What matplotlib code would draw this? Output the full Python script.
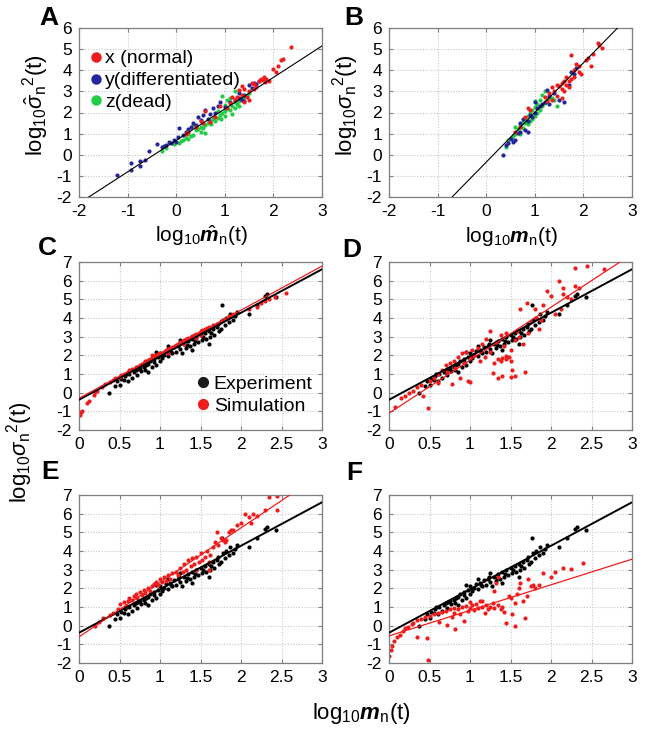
import matplotlib
matplotlib.use("Agg")
import matplotlib.pyplot as plt
from matplotlib.lines import Line2D
import numpy as np

plt.rcParams["font.family"] = ["Liberation Sans", "DejaVu Sans"]
plt.rcParams["mathtext.fontset"] = "custom"
plt.rcParams["mathtext.rm"] = "Liberation Sans"
plt.rcParams["mathtext.it"] = "Liberation Sans:italic"
plt.rcParams["mathtext.bf"] = "Liberation Sans:bold"
plt.rcParams["mathtext.bfit"] = "Liberation Sans:bold:italic"
plt.rcParams["mathtext.sf"] = "Liberation Sans"

# ---------------- data ----------------
# Panel A: normalized mean vs normalized variance
a_x_red = [0.2, 0.25, 0.4, 0.5, 0.55, 0.6, 0.7, 0.8, 1.05, 1.1, 1.2, 1.25, 1.3, 1.35, 1.4, 1.45,
           1.5, 1.55, 1.6, 1.65, 1.7, 1.75, 1.78, 1.8, 1.82, 1.85, 1.9, 1.6, 1.5, 1.4, 2.0, 2.05,
           2.1, 2.15, 2.2, 2.37, 1.35, 1.15, 0.9]
a_y_red = [1.0, 1.1, 1.3, 1.6, 1.5, 2.05, 1.55, 1.8, 2.2, 2.45, 2.6, 2.75, 3.05, 2.85, 3.1, 2.75,
           3.0, 3.4, 3.35, 3.2, 3.5, 3.6, 3.55, 3.7, 3.45, 3.6, 3.5, 3.1, 2.6, 2.5, 4.05, 3.9,
           4.2, 4.5, 4.55, 5.1, 3.25, 2.75, 2.3]
a_x_blue = [-1.22, -0.92, -0.92, -0.75, -0.75, -0.65, -0.55, -0.4, -0.3, -0.25, -0.2, -0.15, -0.1,
            -0.05, 0.0, 0.03, 0.05, 0.15, 0.2, 0.3, 0.35, 0.4, 0.45, 0.5, 0.55, 0.6, 0.7, 0.75,
            0.8, 0.85, 0.9, 1.0, 1.1, 1.2, 1.3, 1.35, 1.4, 1.5, 1.55, 1.6, 1.65, 1.7, 1.4, 1.3,
            0.65, 0.25]
a_y_blue = [-0.95, -0.4, -0.7, -0.3, -0.55, -0.25, 0.2, 0.5, 0.35, 0.4, 0.45, 0.6, 0.55,
            0.7, 0.6, 0.85, 1.25, 0.95, 1.1, 1.3, 1.5, 1.4, 1.8, 1.65, 1.9, 2.1, 1.95, 2.2,
            2.0, 2.3, 2.5, 2.25, 2.5, 2.6, 2.7, 2.6, 2.55, 3.3, 3.15, 3.4, 3.35, 3.5, 2.85, 2.9,
            1.7, 1.2]
a_x_green = [-0.3, -0.2, -0.05, 0.05, 0.1, 0.15, 0.2, 0.25, 0.3, 0.35, 0.35, 0.4, 0.45, 0.5, 0.55,
             0.6, 0.65, 0.7, 0.72, 0.75, 0.8, 0.85, 0.9, 0.92, 0.95, 1.0, 1.0, 1.05, 1.1, 1.15,
             1.2, 1.2, 1.25, 1.3, 1.3, 1.35, 1.4, 1.45, 1.5, 1.05, 1.1, 1.2, 0.95, 0.6, 0.5, 0.25,
             1.0, 0.85, 1.15]
a_y_green = [0.2, 0.3, 0.5, 0.55, 0.65, 0.7, 0.8, 0.75, 0.9, 0.95, 1.4, 1.15, 1.2, 1.3, 1.25,
             1.4, 1.5, 1.6, 1.45, 1.7, 1.6, 1.75, 1.9, 1.7, 2.0, 2.05, 1.85, 2.2, 2.1, 2.3,
             2.2, 2.5, 2.4, 2.55, 2.3, 2.65, 2.75, 2.8, 2.9, 2.6, 2.7, 3.0, 2.8, 1.05, 1.1, 1.0,
             2.35, 2.05, 1.95]

# Panel B: raw mean vs raw variance
b_x_red = [0.6, 0.7, 0.8, 0.85, 0.9, 1.2, 1.3, 1.35, 1.4, 1.45, 1.5, 1.55, 1.55, 1.6, 1.6, 1.65,
           1.65, 1.7, 1.7, 1.75, 1.75, 1.8, 1.8, 1.85, 1.9, 1.9, 1.95, 2.05, 2.1, 2.15, 2.2, 2.3,
           2.32, 2.38, 1.55, 1.45, 1.35, 1.25]
b_y_red = [1.1, 1.3, 1.8, 2.2, 2.1, 2.75, 2.9, 2.6, 3.0, 3.3, 3.25, 3.4, 3.1, 3.0, 3.5, 3.3,
           3.7, 3.2, 3.5, 3.6, 4.7, 3.7, 4.0, 4.3, 4.2, 3.9, 3.8, 4.5, 4.6, 4.2, 4.75, 5.3,
           5.2, 5.05, 2.7, 2.8, 3.2, 2.55]
b_x_blue = [0.35, 0.4, 0.45, 0.5, 0.55, 0.6, 0.65, 0.7, 0.7, 0.75, 0.8, 0.85, 0.85, 0.9, 0.95,
            1.0, 1.05, 1.1, 1.15, 1.2, 1.25, 1.3, 1.4, 1.5, 1.6, 1.7, 1.75, 1.8, 1.85, 1.0, 1.3]
b_y_blue = [0.0, 0.45, 0.55, 0.75, 0.6, 0.7, 1.05, 1.1, 1.5, 1.7, 1.15, 1.1, 1.6, 1.9, 1.8,
            2.0, 2.2, 2.3, 2.4, 2.5, 3.05, 2.8, 2.9, 2.6, 2.5, 3.3, 3.9, 3.8, 4.1, 2.5, 2.4]
b_x_green = [0.4, 0.45, 0.5, 0.55, 0.6, 0.6, 0.65, 0.7, 0.75, 0.75, 0.8, 0.8, 0.85, 0.85, 0.9,
             0.9, 0.95, 0.95, 1.0, 1.0, 1.05, 1.05, 1.1, 1.1, 1.15, 1.15, 1.2, 1.2, 1.25, 1.3,
             1.35, 1.4, 1.45, 0.7, 1.0]
b_y_green = [0.35, 0.7, 0.8, 0.9, 1.0, 1.3, 1.2, 1.4, 1.25, 1.55, 1.5, 1.7, 1.45, 1.85, 1.6,
             2.0, 1.7, 2.1, 1.85, 2.25, 2.0, 2.4, 2.1, 2.6, 2.3, 2.85, 2.45, 3.0, 2.6, 2.7,
             2.7, 2.6, 2.3, 1.0, 2.55]

# Panels C-F: experiment (same in every panel)
exp_x = [0.37, 0.45, 0.47, 0.5, 0.52, 0.55, 0.57, 0.6, 0.62, 0.65, 0.68, 0.7, 0.72, 0.75, 0.77,
         0.8, 0.82, 0.85, 0.85, 0.88, 0.9, 0.92, 0.95, 0.97, 1.0, 1.0, 1.02, 1.05, 1.07, 1.1,
         1.12, 1.15, 1.17, 1.2, 1.22, 1.25, 1.27, 1.3, 1.32, 1.35, 1.37, 1.4, 1.42, 1.45, 1.47,
         1.5, 1.52, 1.55, 1.57, 1.6, 1.62, 1.65, 1.67, 1.7, 1.72, 1.75, 1.77, 1.78, 1.8, 1.82,
         1.85, 1.87, 1.9, 1.92, 1.95, 2.1, 2.2, 2.3, 2.32, 2.43, 1.25, 1.1, 0.95, 1.4, 1.6,
         0.58, 0.73, 0.83, 0.93, 1.03, 1.13, 1.23, 1.33, 1.43, 1.53, 1.63, 1.73]
exp_y = [0.0, 0.35, 0.6, 0.4, 0.75, 0.7, 0.9, 0.65, 1.0, 0.8, 1.1, 1.2, 0.95, 1.3, 1.15,
         1.4, 1.2, 1.55, 1.1, 1.7, 1.35, 1.65, 1.5, 1.9, 1.7, 2.1, 1.85, 2.0, 2.25, 1.95,
         2.3, 2.15, 2.45, 2.2, 2.5, 2.35, 2.1, 2.6, 2.4, 2.75, 2.5, 2.9, 2.6, 3.0, 2.7,
         3.1, 2.8, 3.2, 2.9, 3.3, 3.0, 3.4, 3.1, 3.5, 3.7, 3.4, 4.7, 3.9, 3.6, 4.0,
         3.8, 4.2, 3.9, 4.1, 4.3, 4.2, 4.7, 5.2, 5.3, 5.1, 2.8, 2.5, 2.2, 2.3, 2.6,
         1.0, 1.25, 1.5, 1.8, 1.95, 2.2, 2.6, 2.55, 2.75, 3.0, 3.2, 3.3]

# Simulation, panel C
c_x = [0.01, 0.02, 0.04, 0.1, 0.12, 0.18, 0.2, 0.22, 0.28, 0.32, 0.38, 0.42, 0.45, 0.5, 0.52,
       0.55, 0.6, 0.62, 0.65, 0.7, 0.72, 0.75, 0.78, 0.8, 0.82, 0.85, 0.88, 0.9, 0.92, 0.95,
       0.98, 1.0, 1.02, 1.05, 1.08, 1.1, 1.12, 1.15, 1.18, 1.2, 1.22, 1.25, 1.28, 1.3, 1.32,
       1.35, 1.38, 1.4, 1.42, 1.45, 1.48, 1.5, 1.52, 1.55, 1.58, 1.6, 1.65, 1.7, 1.75, 1.8,
       1.85, 1.9, 2.1, 2.2, 2.25, 2.3, 2.35, 2.42, 2.55, 1.1, 1.3, 0.9, 1.5, 1.45]
c_y = [-1.2, -1.05, -1.0, -0.55, -0.45, -0.1, 0.05, 0.1, 0.3, 0.45, 0.55, 0.7, 0.8, 0.85, 0.95,
       1.0, 1.1, 1.2, 1.25, 1.35, 1.4, 1.5, 1.55, 1.6, 1.7, 1.75, 1.8, 1.85, 1.95, 2.0,
       2.05, 2.1, 2.15, 2.2, 2.3, 2.35, 2.4, 2.45, 2.5, 2.55, 2.6, 2.7, 2.75, 2.8, 2.85,
       2.95, 3.0, 3.05, 3.1, 3.15, 3.2, 3.3, 3.35, 3.4, 3.45, 3.5, 3.6, 3.7, 3.85, 3.95,
       4.1, 4.2, 4.5, 4.6, 4.8, 4.9, 5.0, 5.1, 5.35, 2.15, 2.6, 2.0, 3.1, 2.95]

# Simulation, panel D
d_x = [0.07, 0.15, 0.2, 0.25, 0.3, 0.35, 0.4, 0.42, 0.48, 0.5, 0.55, 0.6, 0.6, 0.65, 0.7, 0.72,
       0.75, 0.78, 0.8, 0.82, 0.85, 0.88, 0.9, 0.92, 0.95, 0.98, 1.0, 1.0, 1.02, 1.05, 1.1,
       1.12, 1.15, 1.18, 1.2, 1.25, 1.25, 1.28, 1.3, 1.32, 1.35, 1.35, 1.38, 1.4, 1.4, 1.42,
       1.45, 1.45, 1.48, 1.5, 1.5, 1.52, 1.55, 1.55, 1.58, 1.6, 1.62, 1.65, 1.68, 1.7, 1.72,
       1.75, 1.8, 1.82, 1.85, 1.88, 1.9, 1.95, 2.0, 2.05, 2.1, 2.12, 2.15, 2.15, 2.2, 2.25,
       2.3, 2.35, 2.3, 2.45, 2.65, 1.45, 1.5, 1.38]
d_y = [-0.75, -0.3, -0.2, 0.0, 0.1, 0.3, 0.4, -0.2, -0.8, 0.6, 0.8, 1.0, 0.5, 1.2, 1.5, 1.1,
       1.6, 0.45, 1.7, 1.3, 1.9, 0.8, 2.1, 1.6, 2.2, 0.6, 0.55, 1.9, 2.3, 2.0, 2.4,
       1.7, 2.6, 1.9, 2.9, 3.3, 2.2, 1.05, 1.6, 2.7, 0.8, 1.8, 3.1, 1.85, 0.9, 2.5,
       1.8, 3.2, 1.9, 0.85, 2.3, 1.2, 2.8, 0.9, 3.3, 3.0, 4.5, 2.6, 1.1, 4.8, 3.2,
       3.8, 4.5, 4.0, 3.4, 3.9, 4.7, 5.45, 5.2, 4.2, 6.0, 4.5, 5.6, 5.3, 5.1, 5.0,
       5.7, 5.6, 6.7, 6.8, 6.6, 1.95, 1.7, 1.7]

# Simulation, panel E
e_x = [0.2, 0.25, 0.3, 0.38, 0.42, 0.48, 0.5, 0.55, 0.58, 0.6, 0.62, 0.65, 0.68, 0.7, 0.72,
       0.75, 0.78, 0.8, 0.82, 0.85, 0.88, 0.9, 0.92, 0.95, 0.98, 1.0, 1.02, 1.05, 1.08, 1.1,
       1.12, 1.15, 1.2, 1.22, 1.25, 1.28, 1.3, 1.32, 1.35, 1.38, 1.4, 1.42, 1.45, 1.48, 1.5,
       1.52, 1.55, 1.58, 1.6, 1.62, 1.65, 1.68, 1.7, 1.72, 1.75, 1.78, 1.8, 1.82, 1.85, 1.88,
       1.9, 1.95, 2.0, 2.05, 2.1, 2.12, 2.15, 2.2, 2.3, 2.35, 2.45, 2.45, 1.6, 1.45]
e_y = [0.0, 0.2, 0.4, 0.55, 0.7, 0.9, 1.15, 1.25, 1.05, 1.3, 1.5, 1.4, 1.6, 1.7, 1.5,
       1.8, 1.65, 1.9, 1.75, 2.0, 1.85, 2.1, 2.25, 2.35, 2.2, 2.5, 2.35, 2.6, 2.4, 2.7,
       2.5, 2.8, 2.9, 2.7, 3.1, 2.9, 3.3, 3.0, 3.5, 3.2, 3.6, 3.3, 3.7, 3.4, 3.9,
       3.5, 3.7, 4.0, 3.4, 3.8, 4.2, 4.5, 5.0, 4.3, 4.7, 4.6, 4.5, 4.6, 5.0, 5.1,
       5.1, 5.4, 5.5, 6.0, 5.8, 5.5, 6.0, 5.9, 6.2, 6.9, 6.95, 6.2, 3.0, 3.0]

# Simulation, panel F
f_x = [0.0, 0.02, 0.04, 0.06, 0.1, 0.13, 0.17, 0.2, 0.23, 0.28, 0.3, 0.35, 0.35, 0.4, 0.45,
       0.47, 0.48, 0.5, 0.55, 0.6, 0.62, 0.65, 0.7, 0.72, 0.75, 0.78, 0.8, 0.82, 0.85, 0.88,
       0.9, 0.92, 0.95, 0.98, 1.0, 1.02, 1.05, 1.08, 1.1, 1.12, 1.15, 1.18, 1.2, 1.22, 1.25,
       1.28, 1.3, 1.3, 1.32, 1.35, 1.35, 1.38, 1.4, 1.42, 1.45, 1.48, 1.5, 1.52, 1.55, 1.55,
       1.58, 1.6, 1.62, 1.65, 1.68, 1.7, 1.72, 1.75, 1.78, 1.8, 1.85, 1.9, 2.0, 2.05, 2.15,
       2.25, 2.4, 0.8, 1.0, 1.15]
f_y = [-1.6, -1.3, -1.1, -0.8, -0.6, -0.5, -0.3, -0.1, -0.05, 0.1, 0.15, -0.6, 0.3, 0.35, 0.45,
       -0.65, -1.85, 0.5, 0.65, 0.7, 0.2, 0.75, 0.8, 0.05, 0.9, 0.45, 0.95, -0.2, 0.9, 0.6,
       1.0, 0.25, 1.05, 0.8, 0.95, 1.1, 0.85, 1.15, 0.95, 1.3, 1.0, 0.7, 1.1, 0.9, 1.0,
       1.2, 1.85, 0.95, 2.3, 2.6, 1.1, 0.9, 1.0, 0.75, 0.15, 1.6, 1.5, 0.6, 0.0, 1.2,
       1.7, 2.0, 2.3, 1.3, 0.4, 1.6, 2.5, 2.1, 2.2, 2.0, 2.2, 2.8, 2.6, 2.9, 3.1,
       3.05, 3.35, 0.7, 1.25, 1.3]

# fitted lines (slope, intercept)
fit_a = (1.49, 0.68)
fit_b = (2.35, -0.35)
fit_exp = (2.33, -0.38)
fit_sim = {"C": (2.36, -0.3), "D": (2.84, -1.1), "E": (2.92, -0.6), "F": (1.37, -0.55)}

RED = "#ee1c1c"
BLUE = "#24249c"
GREEN = "#22cc44"
GRIDC = "#c8c8c8"

W, H = 645, 738
fig = plt.figure(figsize=(W / 100, H / 100), dpi=100)


def add_ax(left, top, right, bottom):
    return fig.add_axes([left / W, 1 - bottom / H, (right - left) / W, (bottom - top) / H])


def style(ax, xlim, ylim, xticks, yticks, xtl):
    ax.set_xlim(xlim)
    ax.set_ylim(ylim)
    ax.set_xticks(xticks)
    ax.set_yticks(yticks)
    ax.set_xticklabels(xtl)
    ax.set_yticklabels([str(v) for v in yticks])
    ax.grid(True, color=GRIDC, linestyle=(0, (1, 1.5)), linewidth=0.8)
    ax.set_axisbelow(True)
    for s in ax.spines.values():
        s.set_color("#7f7f7f")
        s.set_linewidth(0.9)
    ax.tick_params(direction="in", length=3, color="#7f7f7f", labelsize=12.5, pad=5,
                   top=True, right=True)


def line(ax, fit, xr, color, lw):
    xs = np.array(xr)
    ax.plot(xs, fit[0] * xs + fit[1], color=color, lw=lw, zorder=3)


dot = 9

# ---- A ----
axA = add_ax(79, 28, 322, 197)
style(axA, (-2, 3), (-2, 6), range(-2, 4), list(range(-2, 7)), [str(v) for v in range(-2, 4)])
axA.scatter(a_x_green, a_y_green, s=dot, color=GREEN, lw=0, zorder=2)
axA.scatter(a_x_blue, a_y_blue, s=dot, color=BLUE, lw=0, zorder=2)
axA.scatter(a_x_red, a_y_red, s=dot, color=RED, lw=0, zorder=2)
line(axA, fit_a, [-2, 3], "black", 0.8)
handles = [Line2D([], [], ls="", marker="o", ms=6.5, color=c) for c in (RED, BLUE, GREEN)]
axA.legend(handles, ["x (normal)", "y(differentiated)", "z(dead)"], loc="upper left",
           bbox_to_anchor=(-0.005, 0.94), frameon=False, fontsize=14, handletextpad=0.1,
           handlelength=0.7, labelspacing=0.22, borderpad=0.1)

# ---- B ----
axB = add_ax(389, 28, 632, 197)
style(axB, (-2, 3), (-2, 6), range(-2, 4), list(range(-2, 7)), [str(v) for v in range(-2, 4)])
axB.scatter(b_x_green, b_y_green, s=dot, color=GREEN, lw=0, zorder=2)
axB.scatter(b_x_blue, b_y_blue, s=dot, color=BLUE, lw=0, zorder=2)
axB.scatter(b_x_red, b_y_red, s=dot, color=RED, lw=0, zorder=2)
line(axB, fit_b, [-2, 3], "black", 0.8)

# ---- C-F ----
boxes = {"C": (79, 262, 322, 430), "D": (389, 262, 632, 430),
         "E": (79, 495, 322, 663), "F": (389, 495, 632, 663)}
sims = {"C": (c_x, c_y), "D": (d_x, d_y), "E": (e_x, e_y), "F": (f_x, f_y)}
xt = [0, 0.5, 1, 1.5, 2, 2.5, 3]
xtl = ["0", "0.5", "1", "1.5", "2", "2.5", "3"]
for key, box in boxes.items():
    ax = add_ax(*box)
    style(ax, (0, 3), (-2, 7), xt, list(range(-2, 8)), xtl)
    ax.scatter(exp_x, exp_y, s=dot, color="black", lw=0, zorder=2)
    ax.scatter(sims[key][0], sims[key][1], s=dot, color=RED, lw=0, zorder=2)
    line(ax, fit_exp, [0, 3], "black", 1.4)
    line(ax, fit_sim[key], [0, 3], RED, 0.9)
    if key == "C":
        h = [Line2D([], [], ls="", marker="o", ms=7, color=c) for c in ("#1a1a1a", RED)]
        ax.legend(h, ["Experiment", "Simulation"], loc="lower left", bbox_to_anchor=(0.43, 0.02),
                  frameon=False, fontsize=14, handletextpad=0.15, handlelength=0.8,
                  labelspacing=0.25, borderpad=0.1)

# ---- labels ----
def ftext(x, y, s, **kw):
    fig.text(x / W, 1 - y / H, s, ha="center", va="center", **kw)


ftext(36, 105, r"$\mathrm{log}_{10}\hat{\sigma}_\mathrm{n}{}^{2}(\mathrm{t})$", fontsize=16, rotation=90)
ftext(346, 105, r"$\mathrm{log}_{10}\sigma_\mathrm{n}{}^{2}(\mathrm{t})$", fontsize=16, rotation=90)
ftext(201, 236, r"$\mathrm{log}_{10}\hat{\mathbfit{m}}_\mathrm{n}(\mathrm{t})$", fontsize=15)
ftext(511, 236, r"$\mathrm{log}_{10}\mathbfit{m}_\mathrm{n}(\mathrm{t})$", fontsize=15)
ftext(361, 714, r"$\mathrm{log}_{10}\mathbfit{m}_\mathrm{n}(\mathrm{t})$", fontsize=16)
ftext(20, 452, r"$\mathrm{log}_{10}\sigma_\mathrm{n}{}^{2}(\mathrm{t})$", fontsize=16, rotation=90)

for letter, (x, y) in {"A": (49, 18), "B": (354, 18), "C": (47, 248), "D": (352, 250),
                       "E": (50, 472), "F": (354, 473)}.items():
    ftext(x, y, letter, fontsize=19, fontweight="bold")

fig.savefig("out.png", dpi=100)
